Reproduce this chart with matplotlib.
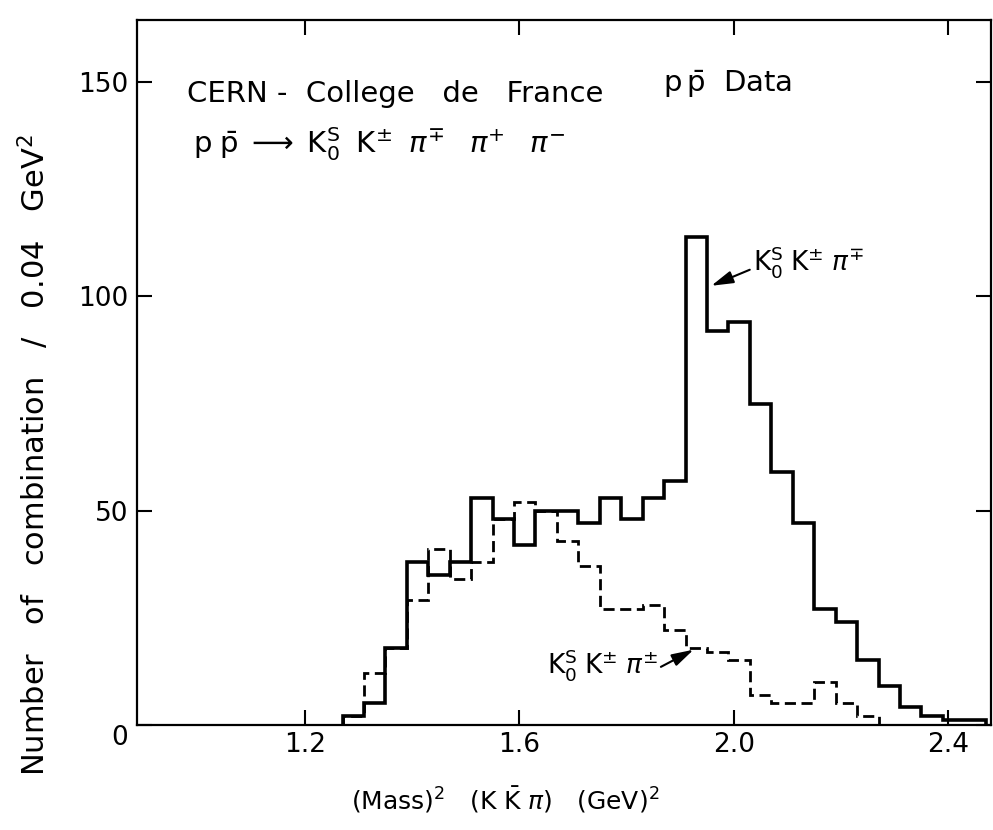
import numpy as np
import matplotlib.pyplot as plt

plt.rcParams['font.family'] = ['DejaVu Sans']
plt.rcParams['mathtext.fontset'] = 'dejavusans'

# histogram binning (0.04 GeV^2 per bin)
bin_start = 1.27
bin_width = 0.04

# K0s K+- pi-+ combinations (solid)
counts_opp = [2, 5, 18, 38, 35, 38, 53, 48, 42, 50, 50, 47, 53, 48, 53,
              57, 114, 92, 94, 75, 59, 47, 27, 24, 15, 9, 4, 2, 1, 1]
# K0s K+- pi+- combinations (dashed)
counts_same = [2, 12, 18, 29, 41, 34, 38, 48, 52, 50, 43, 37, 27, 27, 28,
               22, 18, 17, 15, 7, 5, 5, 10, 5, 2]

xticks = [1.2, 1.6, 2.0, 2.4]
xticklabels = ['1.2', '1.6', '2.0', '2.4']
yticks = [0, 50, 100, 150]
yticklabels = ['0', '50', '100', '150']

edges_opp = bin_start + bin_width * np.arange(len(counts_opp) + 1)
edges_same = bin_start + bin_width * np.arange(len(counts_same) + 1)

fig = plt.figure(figsize=(9.93, 8.3), dpi=100)
ax = fig.add_axes([0.1375, 0.127, 0.86, 0.8495])

ax.stairs(counts_same, edges_same, color='k', lw=2, ls=(0, (4, 2)))
ax.stairs(counts_opp, edges_opp, color='k', lw=2.6)

ax.set_xlim(0.8856, 2.479)
ax.set_ylim(0, 164.7)

for s in ax.spines.values():
    s.set_linewidth(1.6)

ax.set_xticks(xticks)
ax.set_xticklabels(xticklabels)
ax.set_yticks(yticks)
ax.set_yticklabels(yticklabels)
ax.tick_params(direction='in', length=11, width=1.5, top=True, right=True,
               labelsize=19)
ax.tick_params(axis='x', pad=5)
ax.tick_params(axis='y', pad=6)
lab0 = ax.get_yticklabels()[0]
lab0.set_verticalalignment('top')

# header text
ax.text(0.98, 145.5, 'CERN -  College   de   France', fontsize=21)
ax.text(1.867, 147.8, r'p$\,\bar{\mathrm{p}}$  Data', fontsize=21)
ax.text(0.991, 133.5,
        r'$\mathrm{p}\;\bar{\mathrm{p}}\;\longrightarrow\;\mathrm{K}_0^{\mathrm{S}}\;\;'
        r'\mathrm{K}^{\pm}\;\;\pi^{\mp}\;\;\;\pi^{+}\;\;\;\pi^{-}$', fontsize=21)

# curve labels
ax.annotate(r'$\mathrm{K}_0^{\mathrm{S}}\;\mathrm{K}^{\pm}\;\pi^{\mp}$',
            xy=(1.958, 102.5), xytext=(2.035, 106), fontsize=19,
            va='baseline',
            arrowprops=dict(arrowstyle='-|>,head_length=0.7,head_width=0.2',
                            color='k', lw=1.5, shrinkA=0, shrinkB=0,
                            relpos=(-0.02, 0.3)))
ax.annotate(r'$\mathrm{K}_0^{\mathrm{S}}\;\mathrm{K}^{\pm}\;\pi^{\pm}$',
            xy=(1.925, 17.5), xytext=(1.652, 12), fontsize=19,
            va='baseline',
            arrowprops=dict(arrowstyle='-|>,head_length=0.7,head_width=0.2',
                            color='k', lw=1.5, shrinkA=0, shrinkB=0,
                            relpos=(1.0, 0.4)))

fig.text(505 / 993, 1 - 800 / 830,
         r'(Mass)$^2$   (K $\bar{\mathrm{K}}$ $\pi$)   (GeV)$^2$',
         ha='center', va='center', fontsize=18)
fig.text(34 / 993, 1 - 455 / 830,
         r'Number   of   combination   /   0.04   GeV$^2$',
         ha='center', va='center', rotation=90, fontsize=22)

fig.savefig('out.png', dpi=100)
